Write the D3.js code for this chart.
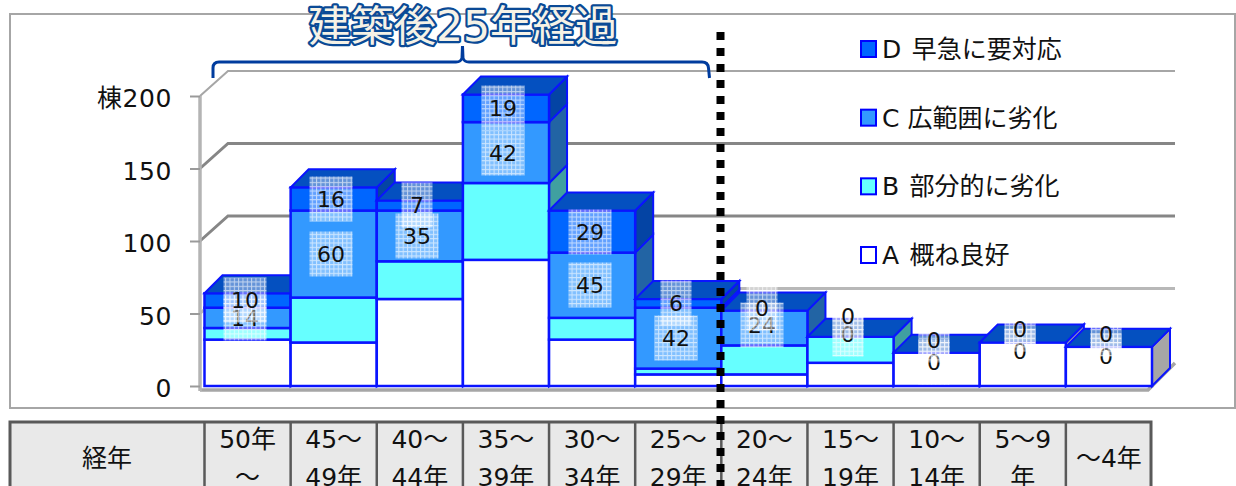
<!DOCTYPE html>
<html>
<head>
<meta charset="utf-8">
<script src="https://cdnjs.cloudflare.com/ajax/libs/d3/7.8.5/d3.min.js"></script>
<style>
html, body { margin: 0; padding: 0; background: #fff; overflow: hidden; }
svg { display: block; }
text { font-family: "DejaVu Sans", "Noto Sans CJK JP", sans-serif; fill: #111; }
</style>
</head>
<body>
<svg id="chart" width="1236" height="486"></svg>
<script>
const categories = ['50年\n～', '45～\n49年', '40～\n44年', '35～\n39年', '30～\n34年', '25～\n29年', '20～\n24年', '15～\n19年', '10～\n14年', '5～9\n年', '～4年'];
const seriesKeys = ['A', 'B', 'C', 'D'];
const seriesNames = ['A \u200a概ね良好', 'B \u200a部分的に劣化', 'C 広範囲に劣化', 'D \u200a早急に要対応'];
const valuesA = [32, 30, 60, 87, 32, 8, 8, 16, 23, 30, 27];
const valuesB = [8, 31, 26, 53, 15, 4, 20, 18, 0, 0, 0];
const valuesC = [14, 60, 35, 42, 45, 42, 24, 0, 0, 0, 0];
const valuesD = [10, 16, 7, 19, 29, 6, 0, 0, 0, 0, 0];
const yTicks = [0, 50, 100, 150, 200];

const rows = categories.map((c, i) => ({ cat: c, A: valuesA[i], B: valuesB[i], C: valuesC[i], D: valuesD[i] }));

const colors = { A: '#ffffff', B: '#66ffff', C: '#3399ff', D: '#0066ff' };
const sideColors = { A: '#a6a6a6', B: '#40a0a0', C: '#2264a4', D: '#0444a4' };
const topColor = '#0450c0';
const edge = '#0a14ff';

const svg = d3.select('#chart');
const defs = svg.append('defs');

// white mesh behind the data labels
const mesh = defs.append('pattern').attr('id', 'mesh').attr('patternUnits', 'userSpaceOnUse')
    .attr('width', 4.33).attr('height', 4.33);
mesh.append('rect').attr('width', 4.33).attr('height', 4.33).attr('fill', '#fff').attr('fill-opacity', 0.38);
mesh.append('path').attr('d', 'M0 0.5H4.33M0.5 0V4.33').attr('stroke', '#fff').attr('stroke-opacity', 0.6).attr('stroke-width', 1);

const x = d3.scaleBand().domain(categories).range([204.5, 1152]);
const y = d3.scaleLinear().domain([0, 200]).range([386, 96]);

const wallDx = 28, wallDy = -25;   // depth of the back wall
const barDx = 18, barDy = -18;     // depth of the columns

// chart frame
svg.append('rect').attr('x', 10).attr('y', 14).attr('width', 1225).attr('height', 394)
    .attr('fill', '#fff').attr('stroke', '#a6a6a6').attr('stroke-width', 2);

// back wall grid
yTicks.filter(d => d > 0).forEach(d => {
    const c = d === 200 ? '#a6a6a6' : (d === 50 ? '#b8b8b8' : '#868686');
    const w = d === 200 ? 2 : 3;
    svg.append('path')
        .attr('d', `M200 ${y(d)}L${200 + wallDx} ${y(d) + wallDy}H1175`)
        .attr('fill', 'none').attr('stroke', c).attr('stroke-width', w);
});

// floor
svg.append('path').attr('d', `M200 ${y(0) + 4}H1148L1175 ${y(0) + wallDy + 2}`)
    .attr('fill', 'none').attr('stroke', '#a6a6a6').attr('stroke-width', 3.5);

// y axis
const yAxis = svg.append('g').attr('transform', 'translate(200,0)')
    .call(d3.axisLeft(y).tickValues(yTicks).tickSize(10).tickPadding(18)
        .tickFormat(d => d === 200 ? '棟200' : d));
yAxis.select('.domain').attr('stroke', '#b4b4b4').attr('stroke-width', 3.5).attr('d', `M0 ${y(200)}V${y(0) + 5}`);
yAxis.selectAll('.tick line').attr('stroke', '#9a9a9a').attr('stroke-width', 2);
yAxis.selectAll('.tick text').style('font-size', '25px').attr('fill', '#111').attr('dy', '0.42em')
    .style('letter-spacing', '0.6px');

// stacked columns, left to right so the next column hides the side of the last
const stacked = d3.stack().keys(seriesKeys)(rows);

categories.forEach((cat, i) => {
    const x0 = x(cat), x1 = x0 + x.bandwidth();
    const g = svg.append('g').attr('class', 'column');
    stacked.forEach(layer => {
        const key = layer.key;
        const [v0, v1] = layer[i];
        if (v1 === v0) return;
        const yb = y(v0), yt = y(v1);
        g.append('path')
            .attr('d', `M${x1} ${yb}L${x1 + barDx} ${yb + barDy}V${yt + barDy}L${x1} ${yt}Z`)
            .attr('fill', sideColors[key]).attr('stroke', edge).attr('stroke-width', 2);
        g.append('rect').attr('x', x0).attr('y', yt).attr('width', x.bandwidth()).attr('height', yb - yt)
            .attr('fill', colors[key]).attr('stroke', edge).attr('stroke-width', 2.5);
    });
    const topV = stacked[3][i][1];
    g.append('path')
        .attr('d', `M${x0} ${y(topV)}L${x0 + barDx} ${y(topV) + barDy}H${x1 + barDx}L${x1} ${y(topV)}Z`)
        .attr('fill', topColor).attr('stroke', edge).attr('stroke-width', 2);
});

// data labels: C first, D over it; the stray zero labels sit off their segment
const nudgeC = [0, 0, 0, 0, 0, 0, -3, -3, 9, 9, 9];
const nudgeD = [0, 0, 0, 0, 0, 0, -3, -21, -13, -13, -13];
['C', 'D'].forEach((key, k) => {
    const layer = stacked[k + 2];
    const nudge = key === 'C' ? nudgeC : nudgeD;
    categories.forEach((cat, i) => {
        const [v0, v1] = layer[i];
        const v = v1 - v0;
        const cx = Math.round(x(cat) + x.bandwidth() / 2 - 2.5);
        const cy = Math.round((y(v0) + y(v1)) / 2 + nudge[i]);
        const w = String(v).length > 1 ? 43 : 31;
        svg.append('rect').attr('x', cx - w / 2).attr('y', cy - 22.5).attr('width', w).attr('height', 45)
            .attr('fill', 'url(#mesh)');
        svg.append('text').attr('x', cx).attr('y', cy).attr('dy', '0.36em').attr('text-anchor', 'middle')
            .style('font-size', '22px').text(v);
    });
});

// legend
const legendY = d3.scalePoint().domain(['D', 'C', 'B', 'A']).range([49, 255]);
seriesKeys.forEach((key, i) => {
    svg.append('rect').attr('x', 861).attr('y', legendY(key) - 8).attr('width', 15).attr('height', 16)
        .attr('fill', colors[key]).attr('stroke', '#0000ff').attr('stroke-width', 2);
    svg.append('text').attr('x', 882).attr('y', legendY(key)).attr('dy', '0.36em')
        .style('font-size', '25px').style('white-space', 'pre').text(seriesNames[i]);
});

// title and brace
svg.append('text').attr('x', 463).attr('y', 41).attr('text-anchor', 'middle')
    .style('font-size', '42.500px').style('paint-order', 'stroke')
    .attr('stroke', '#0a4a96').attr('stroke-width', 4.5).attr('stroke-linejoin', 'round')
    .style('fill', '#f6f2e6').text('建築後25年経過');

svg.append('path')
    .attr('d', 'M213 78V68Q213 62 219 62H456Q461 62 462 58L462.5 46L463 58Q464 62 469 62H702Q708 62 708.500 68L709.500 78')
    .attr('fill', 'none').attr('stroke', '#003c9e').attr('stroke-width', 3);

// table under the chart
const table = svg.append('g');
const rowTop = 422, rowH = 90;
const edges = [10].concat(categories.map(c => x(c)), [1151]);
table.append('rect').attr('x', 10).attr('y', rowTop).attr('width', 1141).attr('height', rowH)
    .attr('fill', '#e9e9e9').attr('stroke', '#595959').attr('stroke-width', 3);
edges.slice(1, -1).forEach(e => {
    table.append('line').attr('x1', e).attr('x2', e).attr('y1', rowTop).attr('y2', rowTop + rowH)
        .attr('stroke', '#595959').attr('stroke-width', 2.5);
});
table.append('text').attr('x', 107).attr('y', 458).attr('dy', '0.36em').attr('text-anchor', 'middle')
    .style('font-size', '25px').text('経年');
categories.forEach(cat => {
    const lines = cat.split('\n');
    const cx = x(cat) + x.bandwidth() / 2;
    lines.forEach((line, i) => {
        const ly = lines.length === 1 ? 458 : 439 + i * 38;
        table.append('text').attr('x', cx).attr('y', ly).attr('dy', '0.36em').attr('text-anchor', 'middle')
            .style('font-size', '25px').text(line);
    });
});

// 25 year divider
svg.append('line').attr('x1', 720.5).attr('x2', 720.5).attr('y1', 32).attr('y2', 486)
    .attr('stroke', '#000').attr('stroke-width', 8).attr('stroke-dasharray', '8 8');
</script>
</body>
</html>
